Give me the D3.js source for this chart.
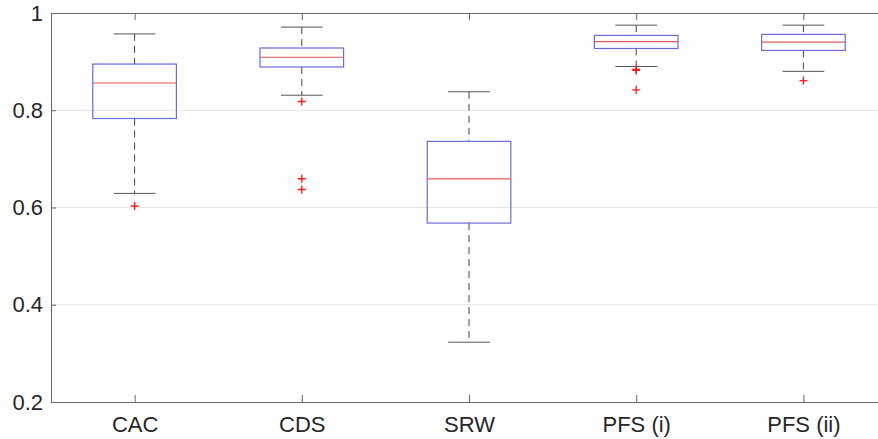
<!DOCTYPE html>
<html>
<head>
<meta charset="utf-8">
<script src="https://cdn.jsdelivr.net/npm/d3@7"></script>
<style>
  body { margin: 0; background: #fff; }
  svg { display: block; font-family: "Liberation Sans", Arial, sans-serif; }
</style>
</head>
<body>
<div id="chart"></div>
<script>
// boxplot values
const categories = ["CAC", "CDS", "SRW", "PFS (i)", "PFS (ii)"];
const whiskerHigh = [0.957, 0.971, 0.838, 0.975, 0.975];
const boxTop      = [0.895, 0.928, 0.736, 0.954, 0.956];
const medians     = [0.856, 0.909, 0.659, 0.941, 0.940];
const boxBottom   = [0.783, 0.889, 0.568, 0.927, 0.923];
const whiskerLow  = [0.629, 0.831, 0.323, 0.890, 0.880];
const outliers    = [[0.603], [0.818, 0.659, 0.637], [], [0.884, 0.882, 0.842], [0.861]];
const yTicks = [0.2, 0.4, 0.6, 0.8, 1];

const W = 878, H = 439;
const margin = { top: 13, left: 51, bottom: 37 };
const plotBottom = H - margin.bottom;
// the figure is cut on the right, so x range runs past the picture
const xRight = 887;

const data = categories.map((c, i) => ({
  name: c, hi: whiskerHigh[i], q3: boxTop[i], med: medians[i],
  q1: boxBottom[i], lo: whiskerLow[i], out: outliers[i]
}));

const svg = d3.select("#chart").append("svg")
  .attr("width", W).attr("height", H);

const x = d3.scaleLinear().domain([0.5, 5.5]).range([margin.left, xRight]);
const y = d3.scaleLinear().domain([0.2, 1]).range([plotBottom, margin.top]);

// grid
svg.append("g").selectAll("line")
  .data(yTicks.filter(t => t > 0.2 && t < 1))
  .join("line")
  .attr("x1", margin.left).attr("x2", W)
  .attr("y1", d => y(d)).attr("y2", d => y(d))
  .attr("stroke", "#e6e6e6").attr("stroke-width", 1);

// axes
const axisColor = "#666";
const yAxis = svg.append("g")
  .attr("transform", `translate(${margin.left},0)`)
  .call(d3.axisLeft(y).tickValues(yTicks).tickSizeInner(-5).tickSizeOuter(0)
    .tickFormat(d => d === 1 ? "1" : d3.format(".1f")(d)));
yAxis.select(".domain").attr("stroke", axisColor);
yAxis.selectAll(".tick line").attr("stroke", axisColor);
yAxis.selectAll(".tick text")
  .attr("x", -8).attr("fill", "#262626")
  .style("font-size", "22px");

const xAxis = svg.append("g")
  .attr("transform", `translate(0,${plotBottom})`)
  .call(d3.axisBottom(x).tickValues(d3.range(1, 6)).tickSizeInner(-7).tickSizeOuter(0)
    .tickFormat(d => categories[d - 1]));
xAxis.select(".domain").attr("stroke", axisColor);
xAxis.selectAll(".tick line").attr("stroke", axisColor);
xAxis.selectAll(".tick text")
  .attr("y", 14).attr("fill", "#262626")
  .style("font-size", "22px");

const topAxis = svg.append("g")
  .attr("transform", `translate(0,${margin.top})`)
  .call(d3.axisTop(x).tickValues(d3.range(1, 6)).tickSizeInner(-7).tickSizeOuter(0)
    .tickFormat(""));
topAxis.select(".domain").attr("stroke", axisColor);
topAxis.selectAll(".tick line").attr("stroke", axisColor);

// boxes
const boxW = (x(1.25) - x(1)) * 2;
const capW = x(1.125) - x(1);
const g = svg.append("g").selectAll("g")
  .data(data).join("g")
  .attr("transform", (d, i) => `translate(${x(i + 1)},0)`);

// whiskers (dashed)
g.append("line")
  .attr("x1", 0).attr("x2", 0)
  .attr("y1", d => y(d.hi)).attr("y2", d => y(d.q3))
  .attr("stroke", "#444").attr("stroke-dasharray", "7,5");
g.append("line")
  .attr("x1", 0).attr("x2", 0)
  .attr("y1", d => y(d.q1)).attr("y2", d => y(d.lo))
  .attr("stroke", "#444").attr("stroke-dasharray", "7,5");

// caps
g.append("line")
  .attr("x1", -capW).attr("x2", capW)
  .attr("y1", d => y(d.hi)).attr("y2", d => y(d.hi))
  .attr("stroke", "#555");
g.append("line")
  .attr("x1", -capW).attr("x2", capW)
  .attr("y1", d => y(d.lo)).attr("y2", d => y(d.lo))
  .attr("stroke", "#555");

g.append("rect")
  .attr("x", -boxW / 2).attr("width", boxW)
  .attr("y", d => y(d.q3))
  .attr("height", d => y(d.q1) - y(d.q3))
  .attr("fill", "none").attr("stroke", "#6a6ad8").attr("stroke-width", 1.2);

g.append("line")
  .attr("x1", -boxW / 2).attr("x2", boxW / 2)
  .attr("y1", d => y(d.med)).attr("y2", d => y(d.med))
  .attr("stroke", "#e05a5a").attr("stroke-width", 1.2);

// outliers as red +
const s = 4;
g.selectAll("path.out")
  .data(d => d.out).join("path")
  .attr("class", "out")
  .attr("d", v => `M${-s},${y(v)}H${s}M0,${y(v) - s}V${y(v) + s}`)
  .attr("stroke", "#ff1a1a").attr("stroke-width", 1.4).attr("fill", "none");
</script>
</body>
</html>
